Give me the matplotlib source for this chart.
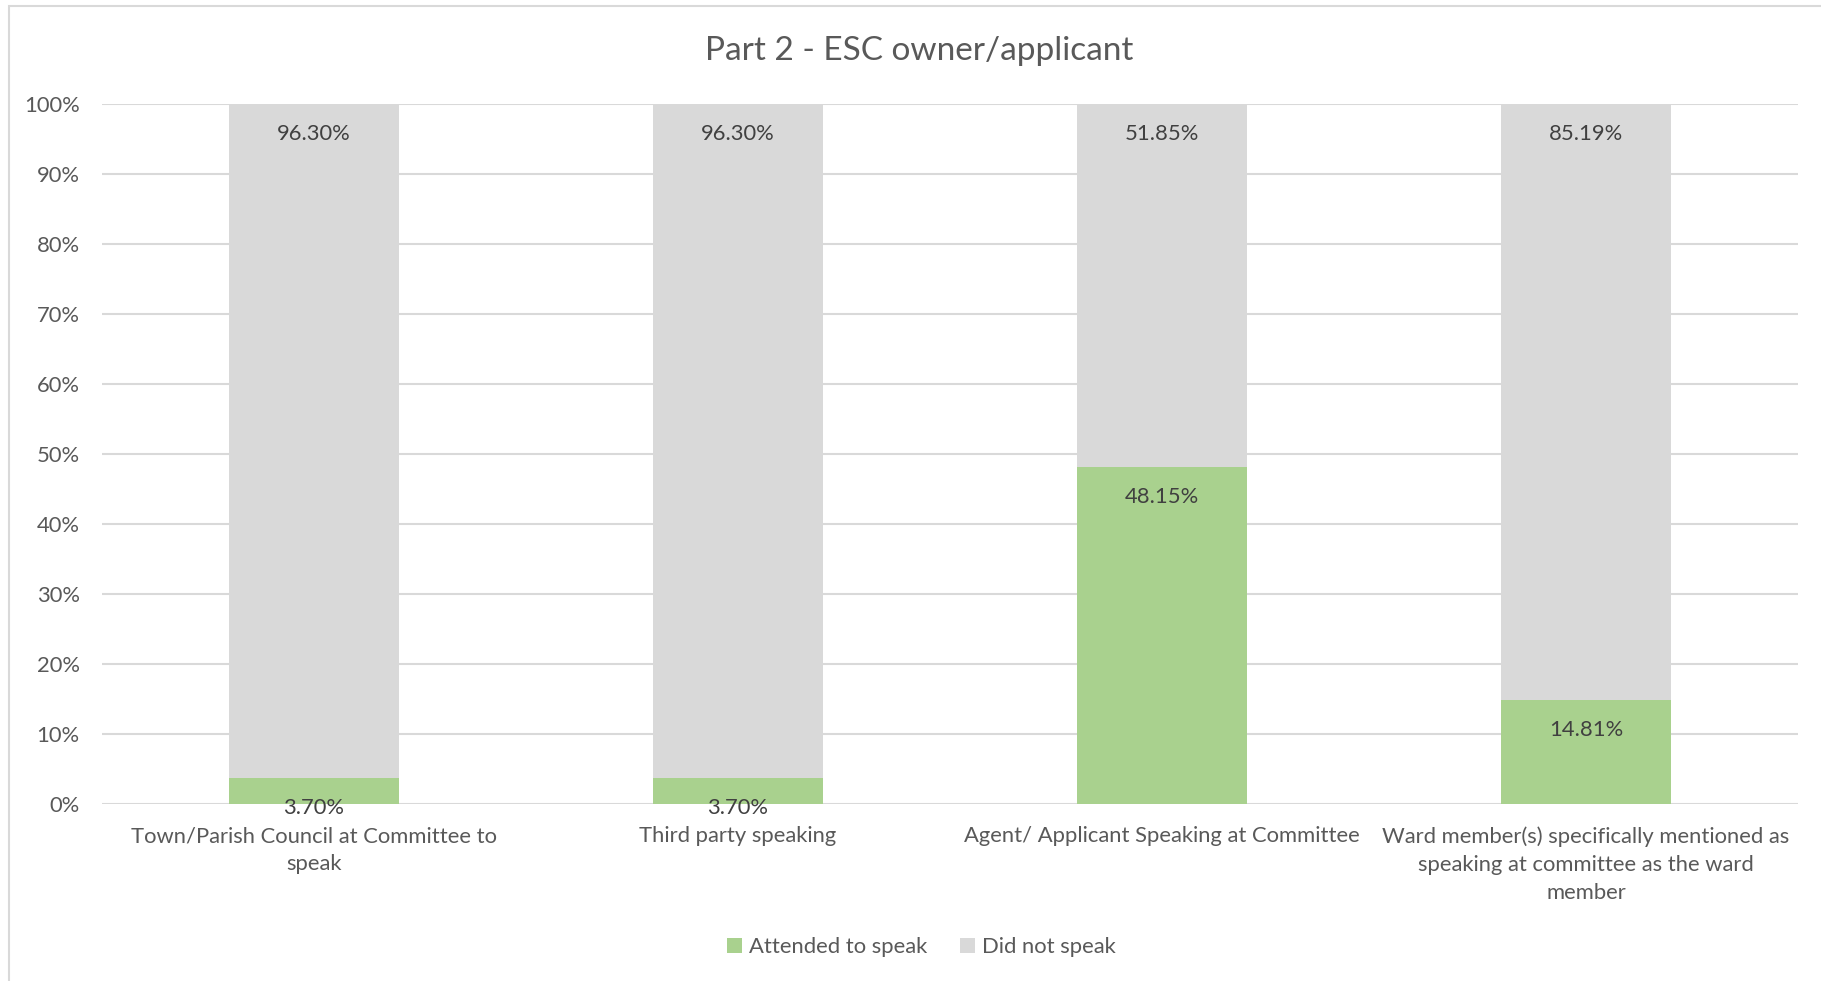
import matplotlib
matplotlib.use("Agg")
import matplotlib.pyplot as plt
from matplotlib.patches import Rectangle
from matplotlib.ticker import PercentFormatter

# ----------------------------------------------------------------------
# Data
# ----------------------------------------------------------------------

TITLE = "Part 2 - ESC owner/applicant"
categories = [
    "Town/Parish Council at Committee to\nspeak",
    "Third party speaking",
    "Agent/ Applicant Speaking at Committee",
    "Ward member(s) specifically mentioned as\nspeaking at committee as the ward\nmember",
]
attended = [3.70, 3.70, 48.15, 14.81]
did_not = [96.30, 96.30, 51.85, 85.19]
series_names = ["Attended to speak", "Did not speak"]
y_ticks = [0, 10, 20, 30, 40, 50, 60, 70, 80, 90, 100]

# ----------------------------------------------------------------------
# Style
# ----------------------------------------------------------------------

GREEN = "#A9D18E"
GREY = "#D9D9D9"
TEXT = "#595959"
LABEL = "#404040"
FONT = ["Lato", "DejaVu Sans"]
TICK_SIZE = 15.8

plt.rcParams["font.family"] = FONT

fig = plt.figure(figsize=(18.21, 9.81), dpi=100)
ax = fig.add_axes([0.056, 0.1804, 0.9314, 0.7131])

x = list(range(len(categories)))
bars_a = ax.bar(x, attended, width=0.4, color=GREEN, label=series_names[0],
                zorder=2)
bars_b = ax.bar(x, did_not, width=0.4, bottom=attended, color=GREY,
                label=series_names[1], zorder=2)

# data labels at the inside end of each segment
for bars in (bars_a, bars_b):
    for rect in bars:
        top = rect.get_y() + rect.get_height()
        ax.annotate(f"{rect.get_height():.2f}%",
                    xy=(rect.get_x() + rect.get_width() / 2, top),
                    xytext=(0, -21.5), textcoords="offset points",
                    ha="center", va="center", fontsize=TICK_SIZE,
                    color=LABEL, zorder=3)

ax.set_xlim(-0.5, len(categories) - 0.5)
ax.set_ylim(0, 100)
ax.set_yticks(y_ticks)
ax.yaxis.set_major_formatter(PercentFormatter(decimals=0))
ax.set_xticks(x)
ax.set_xticklabels(categories, linespacing=1.5)
ax.tick_params(axis="both", length=0, labelsize=TICK_SIZE, colors=TEXT)
ax.tick_params(axis="x", pad=16)
ax.tick_params(axis="y", pad=16)
ax.grid(axis="y", color=GREY, linewidth=1.5, zorder=0)
ax.set_axisbelow(True)
for side in ("top", "right", "left", "bottom"):
    ax.spines[side].set_visible(False)

fig.text(0.505, 1 - 51 / 981, TITLE, ha="center", va="center",
         fontsize=24, color=TEXT)

ax.legend(loc="center", bbox_to_anchor=(0.506, 1 - 947 / 981),
          bbox_transform=fig.transFigure, ncol=2, frameon=False,
          fontsize=TICK_SIZE, labelcolor=TEXT, handlelength=0.7,
          handleheight=0.7, handletextpad=0.3, columnspacing=1.5)

# chart area border (cropped on right and bottom)
fig.patches.append(Rectangle((9 / 1821, -0.1), 1.2, 1.1 - 6 / 981,
                             transform=fig.transFigure, fill=False,
                             edgecolor=GREY, linewidth=1.5))

fig.savefig("out.png", dpi=100)
